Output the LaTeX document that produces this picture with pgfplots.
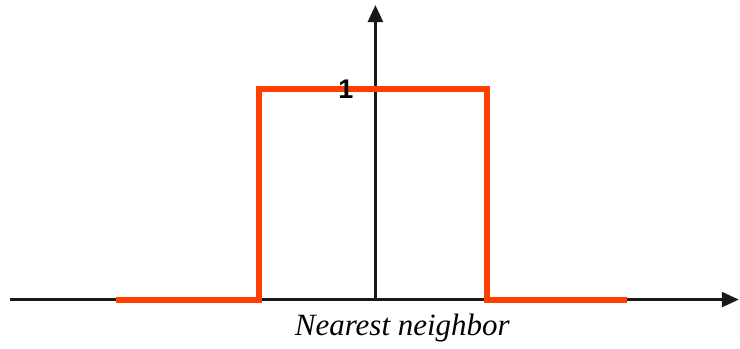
\documentclass[border=0pt]{standalone}
\usepackage{pgfplots}
\pgfplotsset{compat=1.18}
\usepackage{fontspec}
\setmainfont{Liberation Serif}
\newfontfamily\sansf{Liberation Sans}
\usetikzlibrary{arrows.meta}
\definecolor{boxred}{RGB}{255,62,0}
\begin{document}
\begin{tikzpicture}
\begin{axis}[
  scale only axis,
  width=730pt, height=344pt,
  xmin=-1.605, xmax=1.596,
  ymin=-0.232, ymax=1.398,
  axis lines=none,
  clip=false,
]
\path (axis cs:-1.649,-0.232) rectangle (axis cs:1.596,1.422);
\draw[line width=2.5pt, black!90, -{Triangle[length=17pt,width=15pt]}] (axis cs:-1.605,0) -- (axis cs:1.596,0);
\draw[line width=2.5pt, black!90, -{Triangle[length=17pt,width=15pt]}] (axis cs:0,0) -- (axis cs:0,1.398);
\addplot[boxred, line width=6pt, line join=miter] coordinates {
  (-1.14,0) (-0.51,0) (-0.51,1) (0.49,1) (0.49,0) (1.105,0)
};
\node[font=\sansf\bfseries\fontsize{27}{29}\selectfont, anchor=center] at (axis cs:-0.13,1.0) {1};
\node[font=\itshape\fontsize{31}{34}\selectfont, anchor=center] at (axis cs:0.118,-0.135) {Nearest neighbor};
\end{axis}
\end{tikzpicture}
\end{document}
